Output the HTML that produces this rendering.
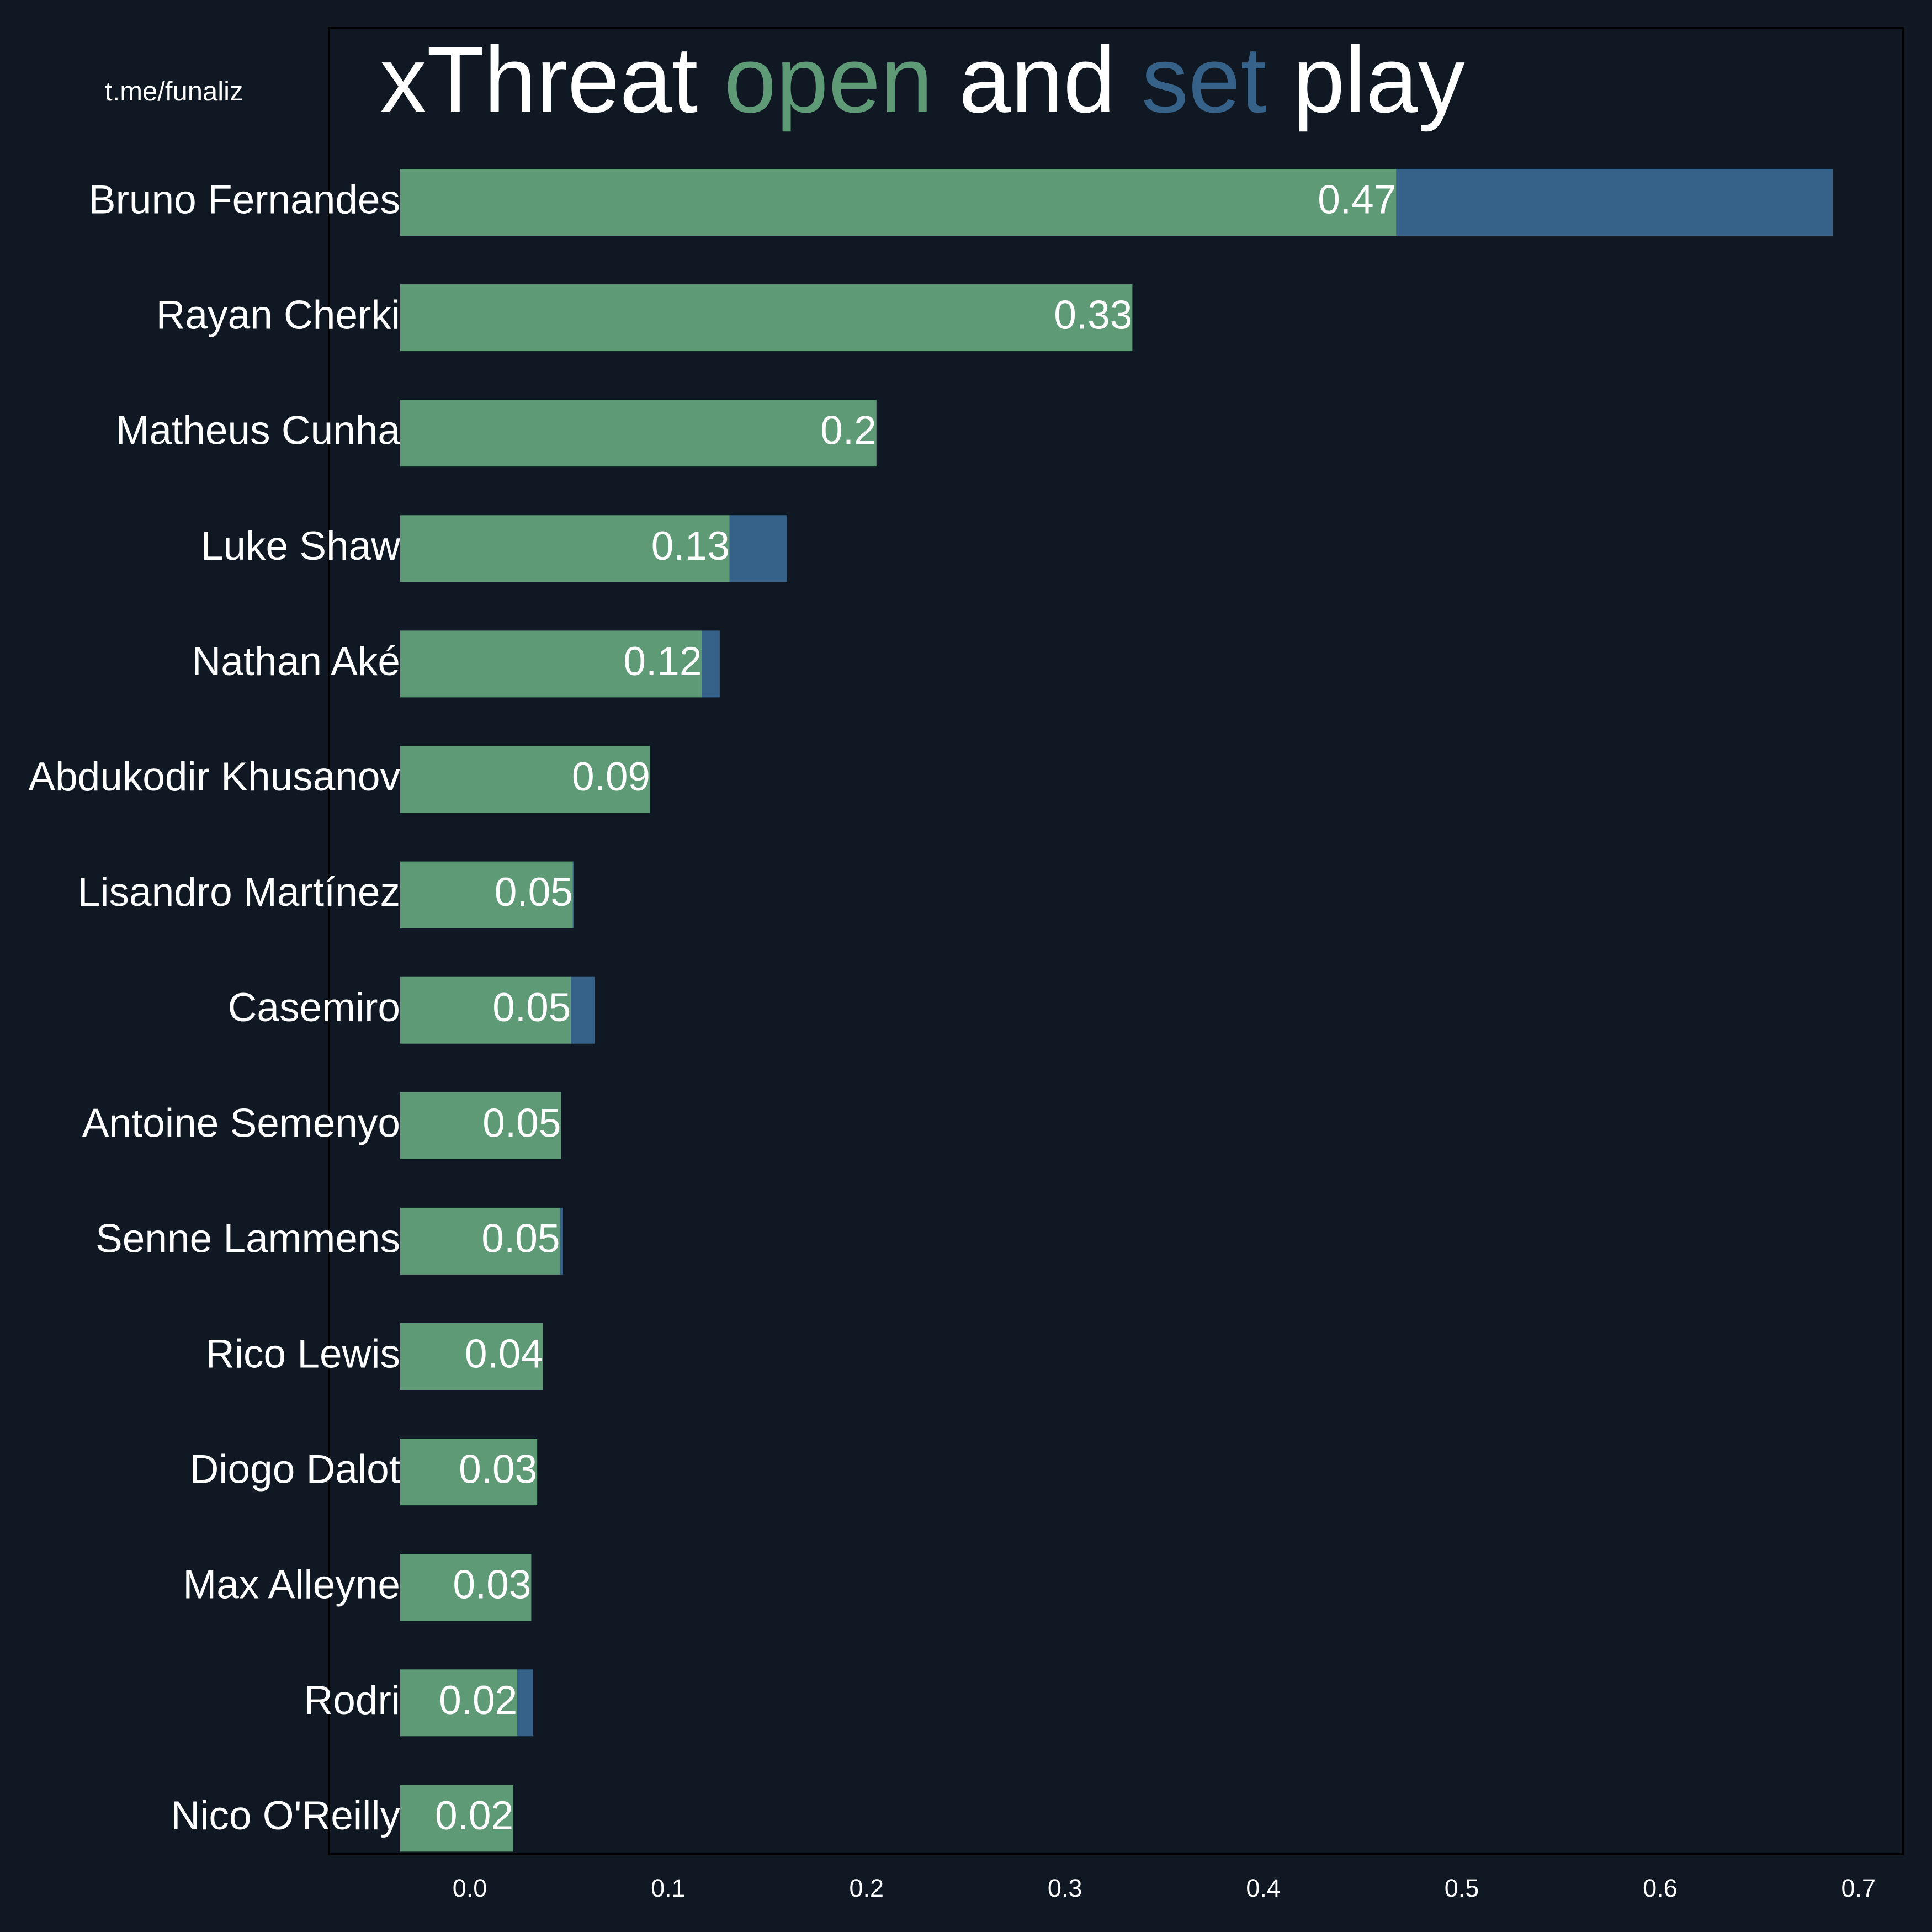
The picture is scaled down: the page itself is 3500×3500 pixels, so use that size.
<!DOCTYPE html>
<html><head><meta charset="utf-8"><style>
html,body{margin:0;padding:0;background:#0f1823;}
svg{display:block;font-family:"Liberation Sans",Arial,sans-serif;}
</style></head><body>
<svg id="chart" width="3500" height="3500" viewBox="0 0 3500 3500" xmlns="http://www.w3.org/2000/svg">
<rect x="0" y="0" width="3500" height="3500" fill="#0f1823"/>
<rect x="596" y="51" width="2852" height="3308" fill="#0f1823" stroke="#000" stroke-width="4"/>
<text x="190" y="182" fill="#fff" font-size="49">t.me/funaliz</text>
<text x="688" y="203" fill="#fff" font-size="170">xThreat <tspan fill="#5f9a76">open</tspan> and <tspan fill="#36628a">set</tspan> play</text>
<g id="bars"></g>
<g id="xticks"></g>
</svg>
<script>
const players = ["Bruno Fernandes","Rayan Cherki","Matheus Cunha","Luke Shaw","Nathan Aké","Abdukodir Khusanov","Lisandro Martínez","Casemiro","Antoine Semenyo","Senne Lammens","Rico Lewis","Diogo Dalot","Max Alleyne","Rodri","Nico O'Reilly"];
const openPlay = [0.467,0.334,0.205,0.131,0.117,0.091,0.052,0.051,0.046,0.0455,0.037,0.034,0.031,0.024,0.022];
const setPlay = [0.220,0,0,0.029,0.009,0,0.0005,0.012,0,0.0015,0,0,0,0.008,0];
const valueLabels = ["0.47","0.33","0.2","0.13","0.12","0.09","0.05","0.05","0.05","0.05","0.04","0.03","0.03","0.02","0.02"];
const tickValues = [0,0.1,0.2,0.3,0.4,0.5,0.6,0.7];
const tickLabels = ["0.0","0.1","0.2","0.3","0.4","0.5","0.6","0.7"];

const NS="http://www.w3.org/2000/svg";
const xScale = v => 851 + v*3594;
const barLeft = 725;
const yScale = i => 366.5 + i*209.1;
const barH = 121;
function mk(tag, attrs){const e=document.createElementNS(NS,tag);for(const k in attrs)e.setAttribute(k,attrs[k]);return e;}
const g=document.getElementById('bars');
players.forEach((p,i)=>{
  const yc=yScale(i);
  const xo=xScale(openPlay[i]);
  const r=mk('rect',{x:barLeft,y:yc-barH/2,width:Math.max(0,xo-barLeft),height:barH,fill:'#5f9a76'});
  
  
  g.appendChild(r);
  if(setPlay[i]>0){
    const xs=xScale(openPlay[i]+setPlay[i]);
    const b=mk('rect',{x:xo,y:yc-barH/2,width:xs-xo,height:barH,fill:'#36628a'});
    
    
    g.appendChild(b);
  }
  const n=mk('text',{x:barLeft,y:yc+20,fill:'#fff','font-size':'73','text-anchor':'end'});
  n.textContent=p;
  
  
  g.appendChild(n);
  const v=mk('text',{x:xo,y:yc+20,fill:'#fff','font-size':'73','text-anchor':'end'});
  v.textContent=valueLabels[i];
  
  
  g.appendChild(v);
});
const tg=document.getElementById('xticks');
tickValues.forEach((t,i)=>{
  const tx=mk('text',{x:xScale(t),y:3436,fill:'#fff','font-size':'45','text-anchor':'middle'});
  tx.textContent=tickLabels[i];
  
  
  tg.appendChild(tx);
});
</script>
</body></html>
